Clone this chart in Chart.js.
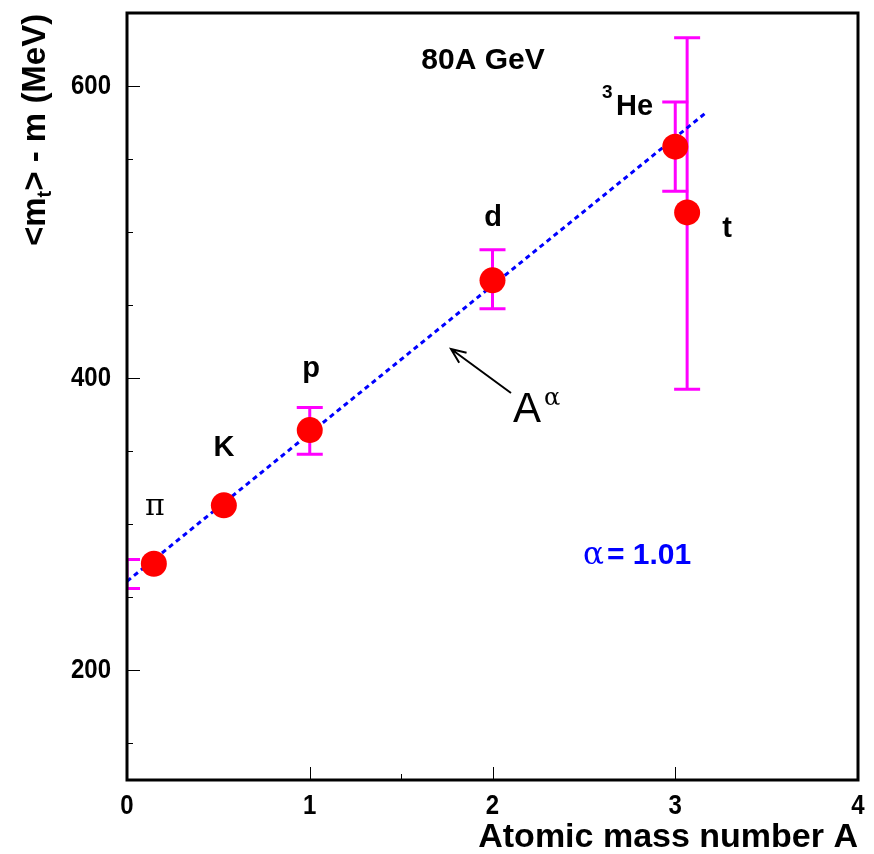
<!DOCTYPE html>
<html>
<head>
<meta charset="utf-8">
<script src="https://cdn.jsdelivr.net/npm/chart.js@4/dist/chart.umd.min.js"></script>
<style>
  html, body { margin: 0; padding: 0; background: #fff; }
  #wrap { position: relative; width: 874px; height: 854px; }
</style>
</head>
<body>
<div id="wrap"><canvas id="mtChart"></canvas></div>
<script>
// particle data
const particles = ['π', 'K', 'p', 'd', '3He', 't'];
const massA = [0.147, 0.53, 1.0, 2.0, 3.0, 3.065];
const mtMinusM = [273, 313, 364.5, 467, 558.5, 513.5];
const errX = [0.0, null, 1.0, 2.0, 3.0, 3.065];
const errLow = [256, null, 348, 447.5, 528, 392.5];
const errHigh = [276, null, 380, 488, 589, 633];

// A^alpha fit (dotted)
const fitA = [0, 3.17];
const fitMt = [261, 582];

const xTickLabels = [0, 1, 2, 3, 4];
const yTickLabels = [200, 400, 600];
const xMinorTicks = [1.5];
const yMinorTicks = [150, 250, 300, 350, 450, 500, 550];

const FONT = '"Liberation Sans", Arial, Helvetica, sans-serif';
const SERIF = '"DejaVu Serif", "Liberation Serif", serif';

// text stretched a bit vertically, like the original's narrow bold face
function tallText(ctx, txt, px, py, sy) {
  ctx.save();
  ctx.translate(px, py);
  ctx.scale(1, sy);
  ctx.fillText(txt, 0, 0);
  ctx.restore();
}

const frameAndTicks = {
  id: 'frameAndTicks',
  afterDraw(chart) {
    const { ctx, chartArea: a, scales: { x, y } } = chart;
    ctx.save();
    ctx.strokeStyle = '#000';
    ctx.lineWidth = 1;
    xTickLabels.slice(1, -1).forEach(v => {
      const px = Math.round(x.getPixelForValue(v)) + 0.5;
      ctx.beginPath(); ctx.moveTo(px, a.bottom); ctx.lineTo(px, a.bottom - 13); ctx.stroke();
    });
    xMinorTicks.forEach(v => {
      const px = Math.round(x.getPixelForValue(v)) + 0.5;
      ctx.beginPath(); ctx.moveTo(px, a.bottom); ctx.lineTo(px, a.bottom - 6); ctx.stroke();
    });
    yTickLabels.forEach(v => {
      const py = Math.round(y.getPixelForValue(v)) + 0.5;
      ctx.beginPath(); ctx.moveTo(a.left, py); ctx.lineTo(a.left + 13, py); ctx.stroke();
    });
    yMinorTicks.forEach(v => {
      const py = Math.round(y.getPixelForValue(v)) + 0.5;
      ctx.beginPath(); ctx.moveTo(a.left, py); ctx.lineTo(a.left + 6, py); ctx.stroke();
    });
    ctx.lineWidth = 3;
    ctx.strokeRect(a.left, a.top, a.right - a.left, a.bottom - a.top);

    // tick labels
    ctx.fillStyle = '#000';
    ctx.font = 'bold 24px ' + FONT;
    ctx.textBaseline = 'middle';
    ctx.textAlign = 'center';
    xTickLabels.forEach(v => tallText(ctx, String(v), x.getPixelForValue(v), a.bottom + 26, 1.15));
    ctx.textAlign = 'right';
    yTickLabels.forEach(v => tallText(ctx, String(v), a.left - 16, y.getPixelForValue(v), 1.15));
    ctx.restore();
  }
};

const errorBars = {
  id: 'errorBars',
  beforeDatasetsDraw(chart) {
    const { ctx, chartArea: a, scales: { x, y } } = chart;
    ctx.save();
    ctx.beginPath();
    ctx.rect(a.left, a.top, a.right - a.left, a.bottom - a.top);
    ctx.clip();
    ctx.strokeStyle = '#ff00ff';
    ctx.lineWidth = 3;
    errX.forEach((ex, i) => {
      if (ex === null) return;
      const px = x.getPixelForValue(ex);
      const lo = y.getPixelForValue(errLow[i]);
      const hi = y.getPixelForValue(errHigh[i]);
      ctx.beginPath();
      ctx.moveTo(px, lo); ctx.lineTo(px, hi);
      ctx.moveTo(px - 13, lo); ctx.lineTo(px + 13, lo);
      ctx.moveTo(px - 13, hi); ctx.lineTo(px + 13, hi);
      ctx.stroke();
    });
    ctx.restore();
  }
};

const texts = {
  id: 'texts',
  afterDraw(chart) {
    const { ctx, scales: { x, y } } = chart;
    const X = v => x.getPixelForValue(v), Y = v => y.getPixelForValue(v);
    ctx.save();
    ctx.textBaseline = 'middle';
    ctx.textAlign = 'center';
    ctx.fillStyle = '#000';

    ctx.font = 'bold 30px ' + FONT;
    ctx.fillText('80A GeV', X(1.948), Y(617.5));

    ctx.font = '30px ' + SERIF;
    ctx.fillText('π', X(0.153), Y(312));

    ctx.font = 'bold 29px ' + FONT;
    ctx.fillText('K', X(0.531), Y(352.5));
    ctx.fillText('p', X(1.007), Y(406));
    ctx.fillText('d', X(2.003), Y(510));
    ctx.fillText('t', X(3.283), Y(502));

    // 3He
    ctx.textAlign = 'left';
    ctx.fillText('He', 616, 107);
    ctx.font = 'bold 19px ' + FONT;
    ctx.fillText('3', 602, 93);

    // A^alpha with arrow
    ctx.font = '42px ' + FONT;
    ctx.fillText('A', 513, 410);
    ctx.font = '24px ' + SERIF;
    ctx.fillText('α', 544, 399);

    ctx.strokeStyle = '#000';
    ctx.lineWidth = 2;
    const x0 = 511, y0 = 393, x1 = 451, y1 = 349;
    const ang = Math.atan2(y1 - y0, x1 - x0);
    ctx.beginPath();
    ctx.moveTo(x0, y0); ctx.lineTo(x1, y1);
    ctx.moveTo(x1 + 16 * Math.cos(ang + Math.PI - 0.4), y1 + 16 * Math.sin(ang + Math.PI - 0.4));
    ctx.lineTo(x1, y1);
    ctx.lineTo(x1 + 16 * Math.cos(ang + Math.PI + 0.4), y1 + 16 * Math.sin(ang + Math.PI + 0.4));
    ctx.stroke();

    // alpha = 1.01
    ctx.fillStyle = '#0000ff';
    ctx.font = '31px ' + SERIF;
    ctx.fillText('α', 583, 556);
    ctx.font = 'bold 30px ' + FONT;
    ctx.fillText('= 1.01', 607, 556);

    // axis titles
    ctx.fillStyle = '#000';
    ctx.textAlign = 'right';
    ctx.font = 'bold 34px ' + FONT;
    ctx.fillText('Atomic mass number A', 858, 838);

    ctx.translate(36, 246);
    ctx.rotate(-Math.PI / 2);
    ctx.textAlign = 'left';
    ctx.font = 'bold 33px ' + FONT;
    let cx = 0;
    ctx.fillText('<m', cx, 0); cx += ctx.measureText('<m').width;
    ctx.font = 'bold 20px ' + FONT;
    ctx.fillText('t', cx, 9); cx += ctx.measureText('t').width;
    ctx.font = 'bold 33px ' + FONT;
    ctx.fillText('> - m (MeV)', cx, 0);
    ctx.restore();
  }
};

new Chart(document.getElementById('mtChart'), {
  type: 'scatter',
  data: {
    datasets: [
      {
        label: 'particles',
        data: massA.map((a, i) => ({ x: a, y: mtMinusM[i] })),
        backgroundColor: '#ff0000',
        borderColor: '#ff0000',
        pointRadius: 13,
        pointHoverRadius: 13,
        borderWidth: 0,
        order: 0
      },
      {
        label: 'A^alpha',
        data: fitA.map((a, i) => ({ x: a, y: fitMt[i] })),
        showLine: true,
        borderColor: '#0000ff',
        borderWidth: 3,
        borderDash: [5, 4],
        pointRadius: 0,
        fill: false,
        order: 1
      }
    ]
  },
  options: {
    responsive: true,
    maintainAspectRatio: false,
    animation: false,
    layout: { padding: { top: 8, right: 16, left: 0, bottom: 0 } },
    plugins: { legend: { display: false }, tooltip: { enabled: false } },
    scales: {
      x: {
        type: 'linear',
        min: 0,
        max: 4,
        afterFit: s => { s.height = 74; },
        grid: { display: false },
        border: { display: false },
        ticks: { display: false }
      },
      y: {
        type: 'linear',
        min: 125,
        max: 650,
        afterFit: s => { s.width = 127; },
        grid: { display: false },
        border: { display: false },
        ticks: { display: false }
      }
    }
  },
  plugins: [errorBars, frameAndTicks, texts]
});
</script>
</body>
</html>
